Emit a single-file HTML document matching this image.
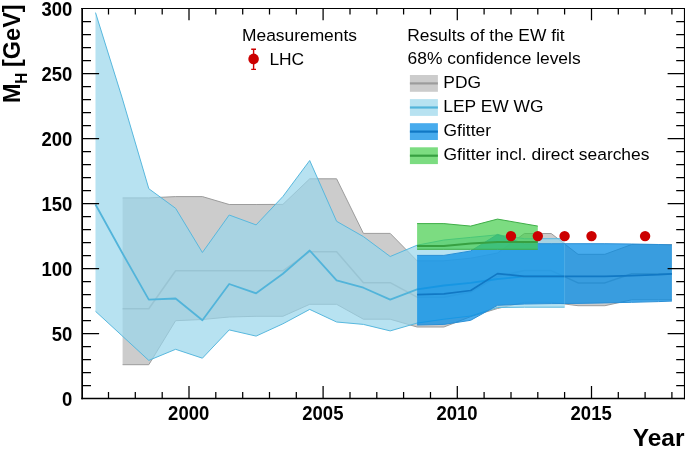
<!DOCTYPE html>
<html><head><meta charset="utf-8"><title>EW fit Higgs mass history</title>
<style>
html,body{margin:0;padding:0;background:#fff;}
svg{display:block;will-change:transform;}
text{font-family:"Liberation Sans",Arial,Helvetica,sans-serif;fill:#000;}
.tl{font-size:19.8px;font-weight:bold;}
.at{font-size:23.5px;font-weight:bold;}
.lg{font-size:16.5px;}
</style></head><body>
<svg width="685" height="455" viewBox="0 0 685 455">
<rect width="685" height="455" fill="#fff"/>
<g>
<polygon points="122.6,197.9 148.8,197.9 175.6,196.6 202.4,196.6 229.2,204.5 256.1,204.5 282.9,204.4 309.7,178.8 336.6,178.8 363.4,233.4 390.2,233.4 417.1,260.8 443.9,260.8 470.7,258.2 497.5,253.0 524.4,233.5 551.2,233.5 578.0,254.3 604.9,254.3 631.7,244.5 658.5,244.5 671.9,244.5 671.9,299.8 658.5,299.8 631.7,299.8 604.9,305.7 578.0,305.7 551.2,302.3 524.4,302.3 497.5,308.5 470.7,316.6 443.9,327.0 417.1,327.0 390.2,319.2 363.4,319.2 336.6,304.3 309.7,304.3 282.9,316.3 256.1,316.3 229.2,317.0 202.4,319.5 175.6,320.7 148.8,364.7 122.6,364.7" fill="#cccccc" fill-opacity="1"/>
<polyline points="122.6,197.9 148.8,197.9 175.6,196.6 202.4,196.6 229.2,204.5 256.1,204.5 282.9,204.4 309.7,178.8 336.6,178.8 363.4,233.4 390.2,233.4 417.1,260.8 443.9,260.8 470.7,258.2 497.5,253.0 524.4,233.5 551.2,233.5 578.0,254.3 604.9,254.3 631.7,244.5 658.5,244.5 671.9,244.5" fill="none" stroke="#9c9c9c" stroke-width="1.0" stroke-linejoin="round"/>
<polyline points="122.6,364.7 148.8,364.7 175.6,320.7 202.4,319.5 229.2,317.0 256.1,316.3 282.9,316.3 309.7,304.3 336.6,304.3 363.4,319.2 390.2,319.2 417.1,327.0 443.9,327.0 470.7,316.6 497.5,308.5 524.4,302.3 551.2,302.3 578.0,305.7 604.9,305.7 631.7,299.8 658.5,299.8 671.9,299.8" fill="none" stroke="#9c9c9c" stroke-width="1.0" stroke-linejoin="round"/>
<polyline points="122.6,308.8 148.8,308.8 175.6,270.8 202.4,270.8 229.2,270.8 256.1,270.8 282.9,270.8 309.7,251.7 336.6,251.7 363.4,282.7 390.2,282.7 417.1,297.2 443.9,297.2 470.7,292.0 497.5,276.4 524.4,270.6 551.2,270.6 578.0,282.9 604.9,282.9 631.7,273.8 658.5,273.8 671.9,273.8" fill="none" stroke="#9c9c9c" stroke-width="1.5" stroke-linejoin="round"/>
<polygon points="95.5,12.6 121.9,97.1 148.8,188.7 175.6,208.3 202.4,252.5 229.2,215.0 256.1,224.9 282.9,196.5 309.7,160.5 336.6,221.3 363.4,236.6 390.2,256.5 417.1,245.2 443.9,240.0 470.7,237.4 497.5,234.8 524.4,238.7 564.6,238.7 564.6,307.2 524.4,307.2 497.5,307.5 470.7,316.0 443.9,319.2 417.1,323.1 390.2,330.9 363.4,324.4 336.6,322.0 309.7,309.4 282.9,323.8 256.1,336.1 229.2,329.9 202.4,358.2 175.6,349.3 148.8,360.4 121.9,335.6 95.5,311.3" fill="#98d5eb" fill-opacity="0.7"/>
<polyline points="95.5,12.6 121.9,97.1 148.8,188.7 175.6,208.3 202.4,252.5 229.2,215.0 256.1,224.9 282.9,196.5 309.7,160.5 336.6,221.3 363.4,236.6 390.2,256.5 417.1,245.2 443.9,240.0 470.7,237.4 497.5,234.8 524.4,238.7 564.6,238.7" fill="none" stroke="#58b8de" stroke-width="1.0" stroke-linejoin="round"/>
<polyline points="95.5,311.3 121.9,335.6 148.8,360.4 175.6,349.3 202.4,358.2 229.2,329.9 256.1,336.1 282.9,323.8 309.7,309.4 336.6,322.0 363.4,324.4 390.2,330.9 417.1,323.1 443.9,319.2 470.7,316.0 497.5,307.5 524.4,307.2 564.6,307.2" fill="none" stroke="#58b8de" stroke-width="1.0" stroke-linejoin="round"/>
<polyline points="95.5,204.5 121.9,252.3 148.8,299.6 175.6,298.5 202.4,320.3 229.2,284.0 256.1,293.3 282.9,273.8 309.7,250.5 336.6,280.3 363.4,287.7 390.2,299.6 417.1,289.4 443.9,285.5 470.7,282.9 497.5,279.0 524.4,276.4 564.6,276.4" fill="none" stroke="#52b4da" stroke-width="1.8" stroke-linejoin="round"/>
<polygon points="417.1,255.4 443.9,255.4 470.7,251.0 497.5,234.4 524.4,243.7 551.2,243.7 578.0,243.7 604.9,243.7 631.7,244.0 658.5,244.5 671.9,244.9 671.9,301.1 658.5,301.6 631.7,302.3 604.9,302.9 578.0,303.4 551.2,303.6 524.4,304.0 497.5,305.3 470.7,320.3 443.9,324.4 417.1,325.0" fill="#008ae6" fill-opacity="0.72"/>
<polyline points="417.1,255.4 443.9,255.4 470.7,251.0 497.5,234.4 524.4,243.7 551.2,243.7 578.0,243.7 604.9,243.7 631.7,244.0 658.5,244.5 671.9,244.9" fill="none" stroke="#2a8fd6" stroke-width="1.0" stroke-linejoin="round"/>
<polyline points="417.1,325.0 443.9,324.4 470.7,320.3 497.5,305.3 524.4,304.0 551.2,303.6 578.0,303.4 604.9,302.9 631.7,302.3 658.5,301.6 671.9,301.1" fill="none" stroke="#2a8fd6" stroke-width="1.0" stroke-linejoin="round"/>
<polyline points="417.1,294.6 443.9,293.9 470.7,290.5 497.5,273.6 524.4,276.4 551.2,276.4 578.0,276.4 604.9,276.4 631.7,275.7 658.5,274.7 671.9,273.8" fill="none" stroke="#1178c4" stroke-width="1.7" stroke-linejoin="round"/>
<path d="M564.6 244.2V307.2" stroke="#8fd0f2" stroke-opacity="0.32" stroke-width="0.9" fill="none"/>
<polygon points="417.1,223.6 443.9,223.6 470.7,226.1 497.5,219.1 537.8,226.1 537.8,249.3 497.5,249.3 470.7,249.3 443.9,249.3 417.1,249.3" fill="#45cd4c" fill-opacity="0.7"/>
<polyline points="417.1,223.6 443.9,223.6 470.7,226.1 497.5,219.1 537.8,226.1" fill="none" stroke="#3fae48" stroke-width="1.0" stroke-linejoin="round"/>
<polyline points="417.1,249.3 443.9,249.3 470.7,249.3 497.5,249.3 537.8,249.3" fill="none" stroke="#3fae48" stroke-width="1.0" stroke-linejoin="round"/>
<polyline points="417.1,246.1 443.9,246.1 470.7,243.5 497.5,242.1 537.8,242.1" fill="none" stroke="#37a041" stroke-width="2.0" stroke-linejoin="round"/>
<circle cx="511.0" cy="236.1" r="5.2" fill="#cc0000"/>
<circle cx="537.8" cy="236.1" r="5.2" fill="#cc0000"/>
<circle cx="564.6" cy="236.1" r="5.2" fill="#cc0000"/>
<circle cx="591.5" cy="236.1" r="5.2" fill="#cc0000"/>
<circle cx="645.1" cy="236.1" r="5.2" fill="#cc0000"/>
</g>
<g>
<rect x="409.9" y="75.0" width="28" height="16.8" fill="#cccccc" fill-opacity="1"/><path d="M409.9 83.4h28" stroke="#9c9c9c" stroke-width="2.2"/>
<rect x="409.9" y="99.1" width="28" height="16.8" fill="#98d5eb" fill-opacity="0.7"/><path d="M409.9 107.5h28" stroke="#52b4da" stroke-width="2.2"/>
<rect x="409.9" y="123.2" width="28" height="16.8" fill="#008ae6" fill-opacity="0.72"/><path d="M409.9 131.6h28" stroke="#1178c4" stroke-width="2.2"/>
<rect x="409.9" y="147.3" width="28" height="16.8" fill="#45cd4c" fill-opacity="0.7"/><path d="M409.9 155.7h28" stroke="#37a041" stroke-width="2.2"/>
<path d="M253.6 49.2V69.4M251.2 49.2h4.8M251.2 69.4h4.8" stroke="#cc0000" stroke-width="1.4" fill="none"/><circle cx="253.6" cy="58.9" r="5.3" fill="#cc0000"/>
</g>
<g>
<path d="M81.3 8.5H685" stroke="#000" stroke-width="1.2" fill="none"/>
<path d="M81.3 398.5H685" stroke="#000" stroke-width="1.3" fill="none"/>
<path d="M82.15 7.9V399.15" stroke="#000" stroke-width="1.7" fill="none"/>
<path d="M684.55 7.9V399.15" stroke="#000" stroke-width="1.25" fill="none"/>
<path d="M108.5 398.5v-6.5M108.5 8.6v6.0M135.3 398.5v-6.5M135.3 8.6v6.0M162.2 398.5v-6.5M162.2 8.6v6.0M189.0 398.5v-12.6M189.0 8.6v11.7M215.8 398.5v-6.5M215.8 8.6v6.0M242.7 398.5v-6.5M242.7 8.6v6.0M269.5 398.5v-6.5M269.5 8.6v6.0M296.3 398.5v-6.5M296.3 8.6v6.0M323.1 398.5v-12.6M323.1 8.6v11.7M350.0 398.5v-6.5M350.0 8.6v6.0M376.8 398.5v-6.5M376.8 8.6v6.0M403.6 398.5v-6.5M403.6 8.6v6.0M430.5 398.5v-6.5M430.5 8.6v6.0M457.3 398.5v-12.6M457.3 8.6v11.7M484.1 398.5v-6.5M484.1 8.6v6.0M511.0 398.5v-6.5M511.0 8.6v6.0M537.8 398.5v-6.5M537.8 8.6v6.0M564.6 398.5v-6.5M564.6 8.6v6.0M591.5 398.5v-12.6M591.5 8.6v11.7M618.3 398.5v-6.5M618.3 8.6v6.0M645.1 398.5v-6.5M645.1 8.6v6.0M671.9 398.5v-6.5M671.9 8.6v6.0M82.3 385.5h8.7M684.4 385.5h-8.2M82.3 372.5h8.7M684.4 372.5h-8.2M82.3 359.5h8.7M684.4 359.5h-8.2M82.3 346.5h8.7M684.4 346.5h-8.2M82.3 333.5h16.8M684.4 333.5h-16.8M82.3 320.5h8.7M684.4 320.5h-8.2M82.3 307.5h8.7M684.4 307.5h-8.2M82.3 294.6h8.7M684.4 294.6h-8.2M82.3 281.6h8.7M684.4 281.6h-8.2M82.3 268.6h16.8M684.4 268.6h-16.8M82.3 255.6h8.7M684.4 255.6h-8.2M82.3 242.6h8.7M684.4 242.6h-8.2M82.3 229.6h8.7M684.4 229.6h-8.2M82.3 216.6h8.7M684.4 216.6h-8.2M82.3 203.6h16.8M684.4 203.6h-16.8M82.3 190.6h8.7M684.4 190.6h-8.2M82.3 177.6h8.7M684.4 177.6h-8.2M82.3 164.6h8.7M684.4 164.6h-8.2M82.3 151.6h8.7M684.4 151.6h-8.2M82.3 138.6h16.8M684.4 138.6h-16.8M82.3 125.6h8.7M684.4 125.6h-8.2M82.3 112.6h8.7M684.4 112.6h-8.2M82.3 99.7h8.7M684.4 99.7h-8.2M82.3 86.7h8.7M684.4 86.7h-8.2M82.3 73.7h16.8M684.4 73.7h-16.8M82.3 60.7h8.7M684.4 60.7h-8.2M82.3 47.7h8.7M684.4 47.7h-8.2M82.3 34.7h8.7M684.4 34.7h-8.2M82.3 21.7h8.7M684.4 21.7h-8.2" stroke="#000" stroke-width="1.25" fill="none"/>
</g>
<g>
<text transform="translate(72.3,405.50) scale(0.935,1)" text-anchor="end" class="tl">0</text>
<text transform="translate(72.3,340.53) scale(0.935,1)" text-anchor="end" class="tl">50</text>
<text transform="translate(72.3,275.57) scale(0.935,1)" text-anchor="end" class="tl">100</text>
<text transform="translate(72.3,210.60) scale(0.935,1)" text-anchor="end" class="tl">150</text>
<text transform="translate(72.3,145.63) scale(0.935,1)" text-anchor="end" class="tl">200</text>
<text transform="translate(72.3,80.67) scale(0.935,1)" text-anchor="end" class="tl">250</text>
<text transform="translate(72.3,15.70) scale(0.935,1)" text-anchor="end" class="tl">300</text>
<text transform="translate(188.70,419.8) scale(0.935,1)" text-anchor="middle" class="tl">2000</text>
<text transform="translate(322.85,419.8) scale(0.935,1)" text-anchor="middle" class="tl">2005</text>
<text transform="translate(457.00,419.8) scale(0.935,1)" text-anchor="middle" class="tl">2010</text>
<text transform="translate(591.15,419.8) scale(0.935,1)" text-anchor="middle" class="tl">2015</text>
<text transform="translate(684.4,445.5) scale(1.04,1)" text-anchor="end" class="at">Year</text>
<text transform="translate(20.3,103.0) rotate(-90) scale(0.962,1)" font-size="24.4" font-weight="bold">M<tspan dy="7.0" dx="-0.3" font-size="16">H</tspan><tspan dy="-7.0" dx="-0.9"> [GeV]</tspan></text>
<text transform="translate(242.00,40.70) scale(1.0550,1)" class="lg">Measurements</text>
<text transform="translate(269.40,64.70) scale(1.0550,1)" class="lg">LHC</text>
<text transform="translate(407.20,40.70) scale(1.0550,1)" class="lg">Results of the EW fit</text>
<text transform="translate(407.60,64.30) scale(1.0550,1)" class="lg">68% confidence levels</text>
<text transform="translate(443.30,88.00) scale(1.0550,1)" class="lg">PDG</text>
<text transform="translate(443.30,111.90) scale(1.0550,1)" class="lg">LEP EW WG</text>
<text transform="translate(443.60,135.80) scale(1.0550,1)" class="lg">Gfitter</text>
<text transform="translate(443.60,159.70) scale(1.0550,1)" class="lg">Gfitter incl. direct searches</text>
</g>
</svg>
</body></html>
